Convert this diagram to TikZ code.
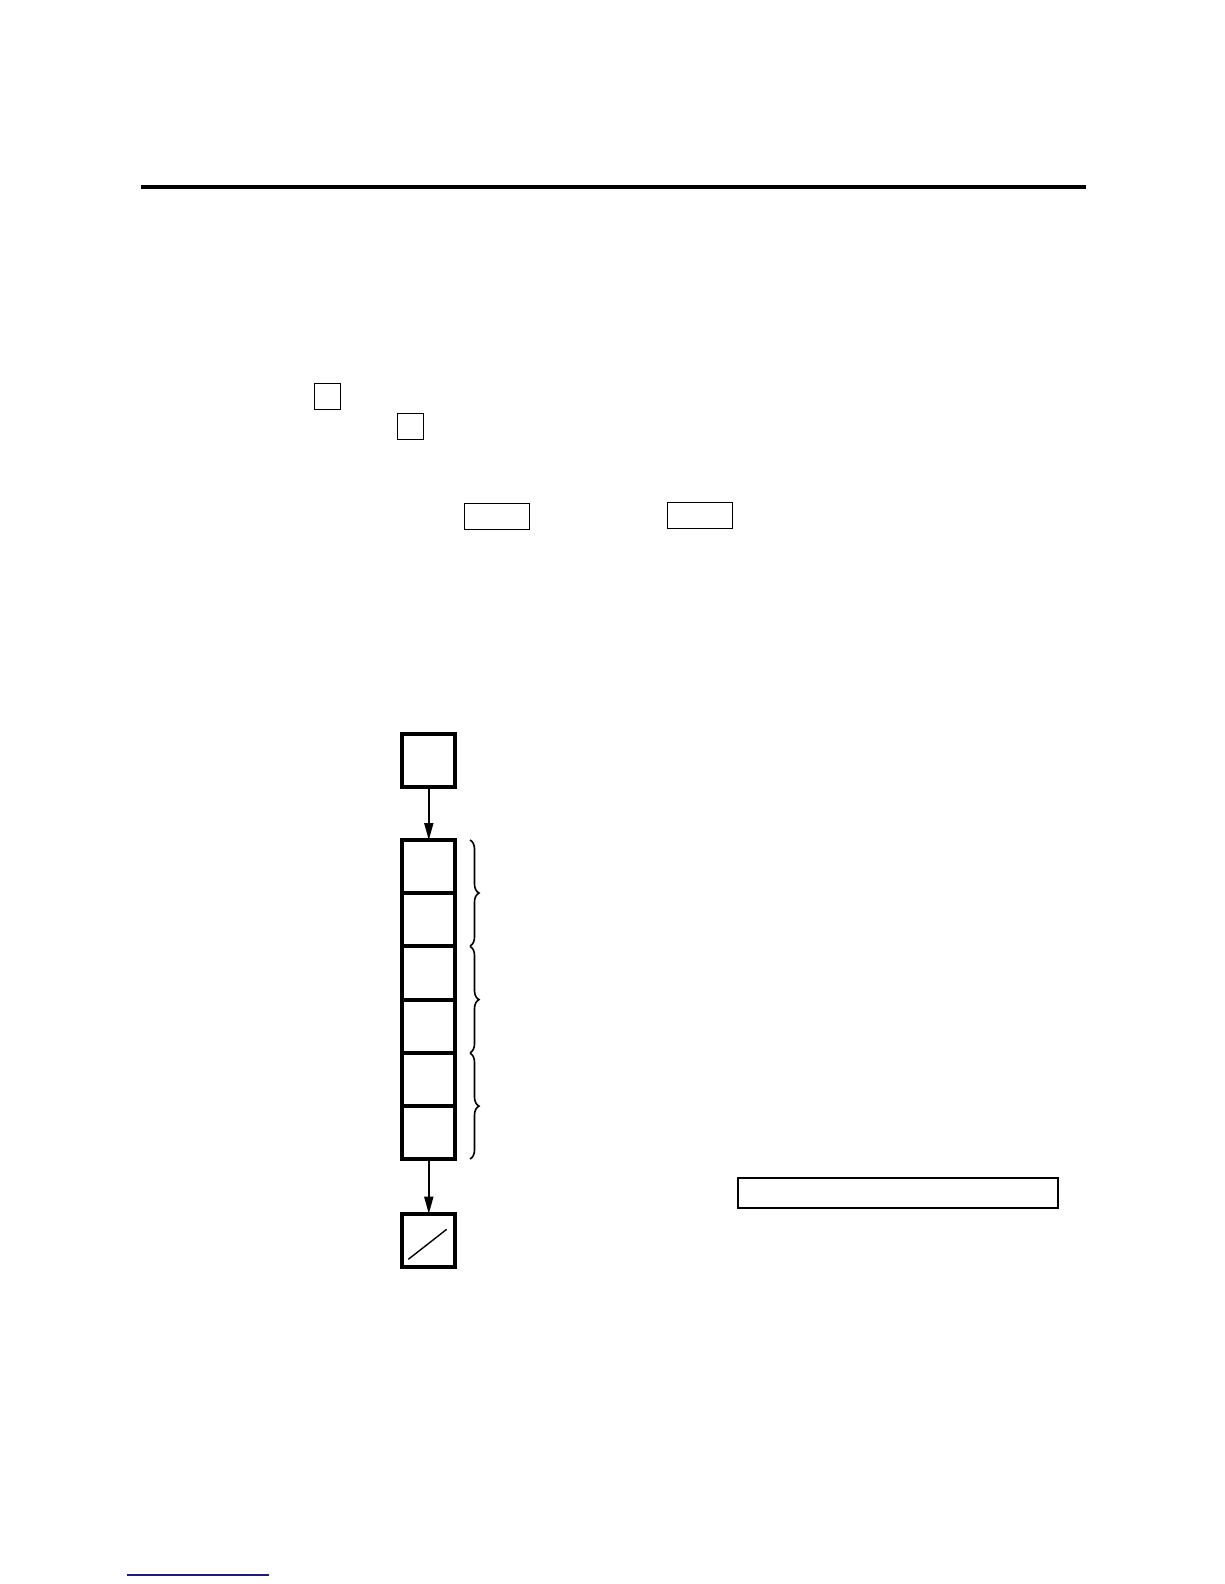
\documentclass[tikz,border=0pt]{standalone}
\usetikzlibrary{arrows.meta,decorations.pathreplacing}
\definecolor{rulenavy}{RGB}{25,25,135}
\begin{document}
\begin{tikzpicture}[x=1bp,y=-1bp,
    field/.style={draw,line width=1.5bp,inner sep=0pt,outer sep=0pt},
    cell/.style={draw,line width=4bp,minimum size=53.2bp,inner sep=0pt,outer sep=0pt},
    link/.style={line width=1.8bp,-{Triangle[length=17bp,width=9bp]}},
    grp/.style={line width=1.6bp,decorate,decoration={brace,amplitude=9bp}}]
    \useasboundingbox(0,0)rectangle(1224,1584);
    \draw[line width=4bp](141,187)--(1086,187);
    \node[field,minimum width=26bp,minimum height=26bp](boxa)at(327.3,396.3){};
    \node[field,minimum width=26bp,minimum height=26bp](boxb)at(410.3,426.3){};
    \node[field,minimum width=65bp,minimum height=26bp](wida)at(496.8,516.3){};
    \node[field,minimum width=65bp,minimum height=26bp](widb)at(700,515.3){};
    \node[cell](head)at(428.8,760.3){};
    \foreach \i in {1,...,6}
        \node[cell](cell\i)at(428.8,{866.6+53.2*(\i-1)}){};
    \node[cell](tail)at(428.8,1240.3){};
    \draw[line width=1.4bp](tail.center)++(-20.5,19)--++(38.4,-30);
    \draw[link](head.south)--(cell1.north);
    \draw[link](cell6.south)--(tail.north);
    \draw[grp](470,840)--(470,946);
    \draw[grp](470,946.4)--(470,1052.8);
    \draw[grp](470,1053.2)--(470,1159);
    \node[field,line width=2bp,minimum width=320bp,minimum height=30.6bp](longbox)at(898.3,1193){};
    \draw[line width=2bp,rulenavy](126.7,1575)--(269,1575);
\end{tikzpicture}
\end{document}
